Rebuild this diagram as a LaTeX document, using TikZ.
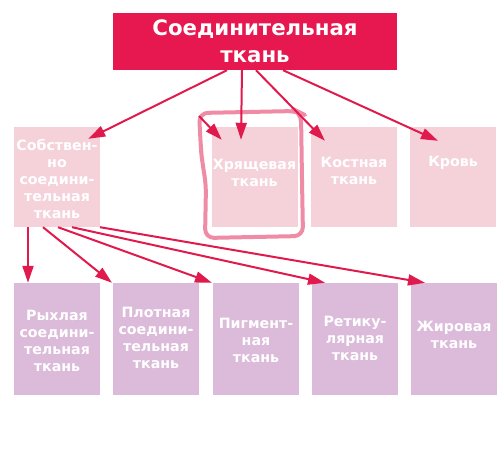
\documentclass[tikz,border=0pt]{standalone}
\usepackage{fontspec}
\setmainfont{DejaVu Sans}
\usetikzlibrary{arrows.meta,calc}
\definecolor{crim}{HTML}{E6184F}
\definecolor{arr}{HTML}{E01A4C}
\definecolor{pinkbox}{HTML}{F5D2DA}
\definecolor{lilac}{HTML}{DCBAD9}
\definecolor{hand}{HTML}{F08BA6}
\begin{document}
\begin{tikzpicture}[x=1pt,y=-1pt,
  topbox/.style={fill=crim,minimum width=284pt,minimum height=57pt,inner sep=0pt},
  midbox/.style={fill=pinkbox,minimum width=86pt,minimum height=100pt,inner sep=0pt},
  lowbox/.style={fill=lilac,minimum width=86pt,minimum height=112pt,inner sep=0pt},
  toptext/.style={text=white,font=\bfseries\fontsize{21.3}{27}\selectfont,align=center,inner sep=0pt},
  boxtext/.style={text=white,font=\bfseries\fontsize{14.2}{17}\selectfont,align=center,inner sep=0pt},
  link/.style={draw=arr,line width=2pt,-{Triangle[length=17pt,width=11pt]}}
]
\useasboundingbox (0,0) rectangle (500,454);
% boxes
\node[topbox] (top) at (255,41.5) {};
\node[toptext] (toptx) at (255,41.5) {Соединительная\\ткань};

\node[midbox] (sob) at (57,177) {};
\node[midbox] (hr) at (254.5,177.5) {};
\node[midbox] (kost) at (354,177) {};
\node[midbox] (krov) at (453,177) {};

\node[lowbox] (ryh) at (57,339) {};
\node[lowbox] (plot) at (156,339) {};
\node[lowbox] (pig) at (256,339) {};
\node[lowbox] (ret) at (355,339) {};
\node[lowbox] (zhir) at (454,339) {};

% texts
\node[boxtext] (sobtx) at (57,178.5) {Собствен-\\но\\соедини-\\тельная\\ткань};
\node[boxtext] (hrtx) at (254.5,172.5) {Хрящевая\\ткань};
\node[boxtext] (kosttx) at (354,171) {Костная\\ткань};
\node[boxtext] (krovtx) at (453,163) {Кровь};

\node[boxtext] (ryhtx) at (57,340.5) {Рыхлая\\соедини-\\тельная\\ткань};
\node[boxtext] (plottx) at (156,338) {Плотная\\соедини-\\тельная\\ткань};
\node[boxtext] (pigtx) at (256,340) {Пигмент-\\ная\\ткань};
\node[boxtext] (rettx) at (355,338) {Ретику-\\лярная\\ткань};
\node[boxtext] (zhirtx) at (454,335) {Жировая\\ткань};

% hand-drawn outline
\draw[hand,line width=4pt,line cap=round,line join=round,rounded corners=9pt]
  (201,150) -- (199,113) -- (297,111) -- (301,113) -- (302,180) -- (303,236)
  -- (205,238) -- (206,185) -- (202,160) -- cycle;
\coordinate (hcorner) at (199,116);

% arrows from top
\draw[link] ([xshift=-28pt]top.south) -- ([xshift=-12pt,yshift=-12pt]sob.north east);
\draw[link] ([xshift=-13pt]top.south) -- ([xshift=-13.5pt,yshift=-12.5pt]hr.north);
\draw[link] ([xshift=1pt]top.south) -- ([xshift=-29pt,yshift=-14pt]kost.north);
\draw[link] ([xshift=28pt]top.south) -- ([xshift=-15pt,yshift=-14pt]krov.north);
\draw[link] (hcorner) -- ([xshift=10.5pt,yshift=-12.5pt]hr.north west);

% arrows from sob
\draw[link] ([xshift=-29pt]sob.south) -- ([xshift=-29pt]ryh.north);
\draw[link] ([xshift=-14pt]sob.south) -- ([xshift=-44pt]plot.north);
\draw[link] ([xshift=1pt]sob.south) -- ([xshift=-44pt]pig.north);
\draw[link] ([xshift=15pt]sob.south) -- ([xshift=-30pt]ret.north);
\draw[link] ([xshift=43pt]sob.south) -- ([xshift=-29pt]zhir.north);
\end{tikzpicture}
\end{document}
